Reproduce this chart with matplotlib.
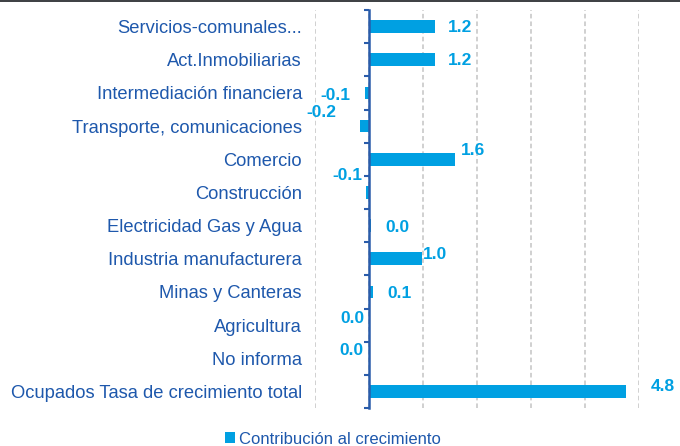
import matplotlib
matplotlib.use("Agg")
import matplotlib.pyplot as plt
from matplotlib.ticker import FixedLocator, MultipleLocator
from matplotlib.patches import Patch
import numpy as np

categories = [
    "Servicios-comunales...",
    "Act.Inmobiliarias",
    "Intermediación financiera",
    "Transporte, comunicaciones",
    "Comercio",
    "Construcción",
    "Electricidad Gas y Agua",
    "Industria manufacturera",
    "Minas y Canteras",
    "Agricultura",
    "No informa",
    "Ocupados Tasa de crecimiento total",
]
values = [1.22, 1.22, -0.07, -0.17, 1.59, -0.06, 0.04, 0.99, 0.07, 0.0, 0.0, 4.76]
series_name = "Contribución al crecimiento"

# label offsets (pixels: dx right, dy down) relative to bar end / row centre
label_dx = [12.9, 12.9, -45.2, -53.8, 6.5, -33.7, 13.8, 0.3, 14.2, -28.3, -30.0, 24.7]
label_dy = [1.4, 1.2, 3.0, -13.2, -8.7, -16.6, 2.2, -4.0, 1.8, -6.4, -7.9, -5.1]

BAR = "#00A0E2"
TXT = "#1E58AC"
AXC = "#2A5CAA"

plt.rcParams["font.family"] = ["Liberation Sans", "DejaVu Sans"]

W, H = 680, 446
fig = plt.figure(figsize=(W / 100, H / 100), dpi=100)
ax = fig.add_axes([315 / W, 38 / H, 324 / W, 398 / H])

y = np.arange(len(categories))
ax.barh(y, values, height=0.38, color=BAR, zorder=3)
ax.set_xlim(-1, 5)
ax.set_ylim(len(categories) - 0.5, -0.5)

ax.xaxis.set_major_locator(MultipleLocator(1))
ax.grid(axis="x", color="#C4C4C4", linestyle=(0, (3, 2)), linewidth=1.1, zorder=0)
ax.tick_params(axis="x", which="both", bottom=False, labelbottom=False)

for s in ["top", "bottom", "left"]:
    ax.spines[s].set_visible(False)
ax.spines["right"].set_position(("data", 0))
ax.spines["right"].set_color(AXC)
ax.spines["right"].set_linewidth(1.8)
ax.spines["right"].set_zorder(4)

ax.set_yticks(y)
ax.set_yticklabels(categories, fontsize=13.2, color=TXT)
ax.yaxis.set_minor_locator(FixedLocator(np.arange(len(categories) + 1) - 0.5))
ax.tick_params(axis="y", which="major", left=True, right=False, length=0, pad=9.4)
ax.tick_params(axis="y", which="minor", left=False, right=True, direction="in",
               length=3.5, width=1.5, color=AXC)

for i, v in enumerate(values):
    ax.annotate(f"{v:.1f}", xy=(v, i), xytext=(label_dx[i] * 0.72, -label_dy[i] * 0.72),
                textcoords="offset points", ha="left", va="center",
                fontsize=12.5, fontweight="bold", color=BAR, zorder=5,
                annotation_clip=False)

leg = fig.legend(handles=[Patch(facecolor=BAR, edgecolor="none", label=series_name)],
                 loc="center", bbox_to_anchor=(333 / W, 1 - 439 / H), frameon=False,
                 fontsize=12, handlelength=0.6, handleheight=0.6, handletextpad=0.2,
                 borderpad=0, borderaxespad=0)
for t in leg.get_texts():
    t.set_color(TXT)

# thin dark top border
fig.add_artist(plt.Rectangle((0, 1 - 2 / H), 1, 2 / H, transform=fig.transFigure,
                             color="#404346", lw=0))

fig.savefig("out.png", dpi=100)
